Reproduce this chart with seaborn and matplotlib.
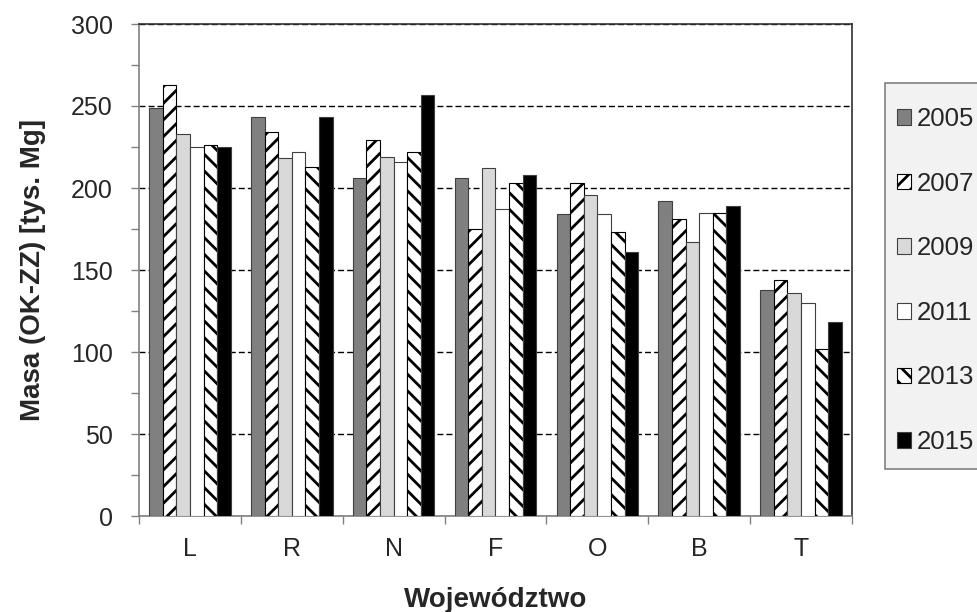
import numpy as np
import pandas as pd
import matplotlib
matplotlib.use("Agg")
import matplotlib.pyplot as plt
import matplotlib.patches as mpatches
import seaborn as sns
from matplotlib.ticker import MultipleLocator

# values (thousand Mg)
regions = ["L", "R", "N", "F", "O", "B", "T"]
years = ["2005", "2007", "2009", "2011", "2013", "2015"]

mass_2005 = [249, 243, 206, 206, 184, 192, 138]
mass_2007 = [263, 234, 229, 175, 203, 181, 144]
mass_2009 = [233, 218, 219, 212, 196, 167, 136]
mass_2011 = [225, 222, 216, 187, 184, 185, 130]
mass_2013 = [226, 213, 222, 203, 173, 185, 102]
mass_2015 = [225, 243, 257, 208, 161, 189, 118]

fills = ["#808080", "#ffffff", "#d9d9d9", "#ffffff", "#ffffff", "#000000"]
hatches = ["", "//", "", "", "\\\\", ""]

series = [mass_2005, mass_2007, mass_2009, mass_2011, mass_2013, mass_2015]
df = pd.DataFrame({
    "region": regions * len(years),
    "year": [y for y in years for _ in regions],
    "mass": [v for s in series for v in s],
})

sns.set_theme(style="white")
plt.rcParams["font.family"] = ["Liberation Sans", "DejaVu Sans"]
plt.rcParams["hatch.linewidth"] = 2.0

fig = plt.figure(figsize=(9.77, 6.12), dpi=100)
ax = fig.add_axes([139 / 977, 96 / 612, 713 / 977, 492 / 612])

sns.barplot(
    data=df, x="region", y="mass", hue="year",
    order=regions, hue_order=years,
    palette=dict(zip(years, fills)), saturation=1,
    width=0.8, edgecolor="#404040", linewidth=0.8,
    legend=False, ax=ax, zorder=3,
)

for cont, h in zip(ax.containers, hatches):
    for bar in cont:
        bar.set_hatch(h)
        if h:
            bar.set_edgecolor("black")

ax.set_xlim(-0.5, 6.5)
ax.set_ylim(0, 300)
ax.yaxis.set_major_locator(MultipleLocator(50))
ax.yaxis.set_minor_locator(MultipleLocator(25))
ax.set_xticks(np.arange(-0.5, 7), minor=True)
ax.tick_params(axis="x", which="major", length=0, labelsize=18, pad=15)
ax.tick_params(axis="x", which="minor", length=6, width=1, color="#808080", direction="out", bottom=True)
ax.tick_params(axis="y", which="both", length=6, width=1, color="#808080", direction="out", left=True, labelsize=18, pad=13)

ax.yaxis.grid(True, which="major", linestyle=(0, (4.3, 2.2)), color="black", linewidth=1, zorder=1)
ax.set_axisbelow(True)

for side in ["left", "bottom"]:
    ax.spines[side].set_color("#808080")
    ax.spines[side].set_linewidth(1.2)
for side in ["top", "right"]:
    ax.spines[side].set_color("#303030")
    ax.spines[side].set_linewidth(1.2)

ax.set_xlabel("Województwo", fontsize=20, fontweight="bold", labelpad=19)
ax.set_ylabel("Masa (OK-ZZ) [tys. Mg]", fontsize=20, fontweight="bold", labelpad=18)

# legend background box, runs off the right edge like in the source
fig.patches.append(mpatches.Rectangle(
    (885 / 977, (612 - 469) / 612), 0.2, 386 / 612,
    transform=fig.transFigure, facecolor="#f2f2f2", edgecolor="#808080",
    linewidth=1.2, zorder=0,
))

handles = [
    mpatches.Patch(facecolor=f, hatch=h, edgecolor="black" if h else "#404040", linewidth=0.8, label=y)
    for f, h, y in zip(fills, hatches, years)
]
leg = fig.legend(
    handles=handles, loc="upper left",
    bbox_to_anchor=(885 / 977, 1 - 95 / 612), bbox_transform=fig.transFigure,
    borderaxespad=0, fontsize=18.5, frameon=False,
    handlelength=0.55, handleheight=0.55, handletextpad=0.2,
    labelspacing=1.58, borderpad=0.47,
)

fig.savefig("out.png", dpi=100)
